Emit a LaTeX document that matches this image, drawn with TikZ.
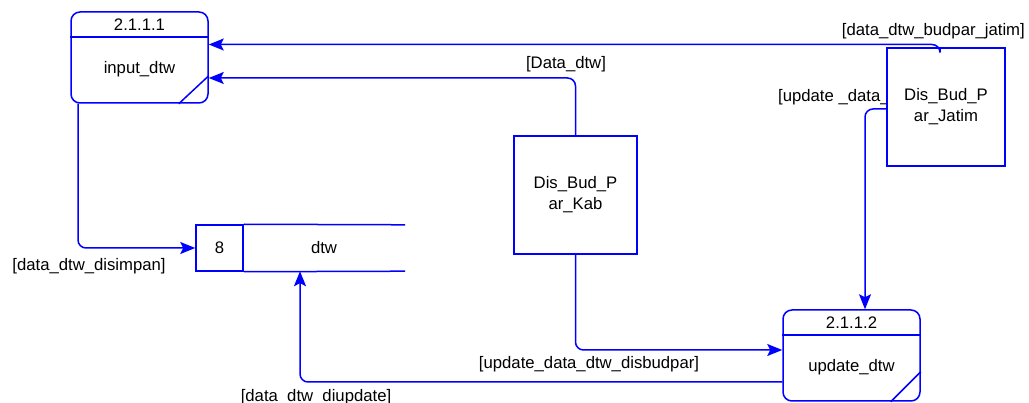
\documentclass[tikz,border=0pt]{standalone}
\usepackage{fontspec}
\setmainfont{Liberation Sans}
\usetikzlibrary{positioning,arrows.meta,calc}

\begin{document}
\begin{tikzpicture}[
    x=1pt, y=-1pt,
    >={Stealth[length=15pt,width=12pt,inset=3pt]},
    every node/.style={font=\fontsize{16.7}{19}\selectfont, inner sep=0pt},
    line/.style={draw=blue, line width=1.5pt},
    procbox/.style={line, rounded corners=9pt, fill=white, minimum width=137pt, minimum height=91pt},
    entitybox/.style={line, fill=white, align=center},
    storebox/.style={line, minimum width=47pt, minimum height=46pt},
    flowarrow/.style={->, line, rounded corners=8pt},
    flowlabel/.style={text=black},
]
\clip (0,0) rectangle (1029,403);
\useasboundingbox (0,0) rectangle (1029,403);

% ---- Processes ----
\node[procbox] (p1) at (139.5,57.5) {};
\draw[line] ([yshift=-26pt]p1.north west) -- ([yshift=-26pt]p1.north east);
\draw[line] ([xshift=-30pt]p1.south east) -- ([yshift=28pt]p1.south east);
\node (p1num) at ([yshift=-13pt]p1.north) {2.1.1.1};
\node (p1name) at ([yshift=-12pt]p1.center) {input\_dtw};

\node[procbox] (p2) at (851.5,355.5) {};
\draw[line] ([yshift=-26pt]p2.north west) -- ([yshift=-26pt]p2.north east);
\draw[line] ([xshift=-30pt]p2.south east) -- ([yshift=30pt]p2.south east);
\node (p2num) at ([yshift=-13pt]p2.north) {2.1.1.2};
\node (p2name) at ([yshift=-12pt]p2.center) {update\_dtw};

% ---- Data store ----
\node[storebox] (s8) at (219.5,248) {8};
\node[minimum width=162pt, minimum height=46pt] (dtw) at (324,248) {dtw};
\draw[line] (s8.north east) -- (dtw.north east);
\draw[line] (s8.south east) -- (dtw.south east);

% ---- External entities ----
\node[flowlabel, anchor=west] (lupdjatim) at (778,97) {[update \_data\_};
\node[entitybox, minimum width=123pt, minimum height=118pt] (kab) at (575.5,195) {Dis\_Bud\_P\\[2pt]ar\_Kab};
\node[entitybox, minimum width=118pt, minimum height=118pt] (jatim) at (946,107) {Dis\_Bud\_P\\[2pt]ar\_Jatim};

% ---- Flows ----
\draw[flowarrow] ([xshift=-6pt]jatim.north) |- ([yshift=13pt]p1.east);
\draw[flowarrow] (kab.north) |- ([yshift=-20.5pt]p1.east);
\draw[flowarrow] ([xshift=-61.5pt]p1.south) |- (s8.west);
\draw[flowarrow] (kab.south) |- ([yshift=5.5pt]p2.west);
\draw[flowarrow] ([yshift=-2pt]jatim.west) -| ([xshift=13.5pt]p2.north);
\draw[flowarrow] ([yshift=-26.5pt]p2.west) -| ([xshift=-24pt]dtw.south);

% ---- Flow labels ----
\node[flowlabel, anchor=east] (ljatim) at (1025,31) {[data\_dtw\_budpar\_jatim]};
\node[flowlabel] (lkab) at (566,64) {[Data\_dtw]};
\node[flowlabel] (lsimpan) at (89,266) {[data\_dtw\_disimpan]};
\node[flowlabel] (ldisbud) at (589,364) {[update\_data\_dtw\_disbudpar]};
\node[flowlabel] (ldiupdate) at (316,397) {[data\_dtw\_diupdate]};

\end{tikzpicture}
\end{document}
